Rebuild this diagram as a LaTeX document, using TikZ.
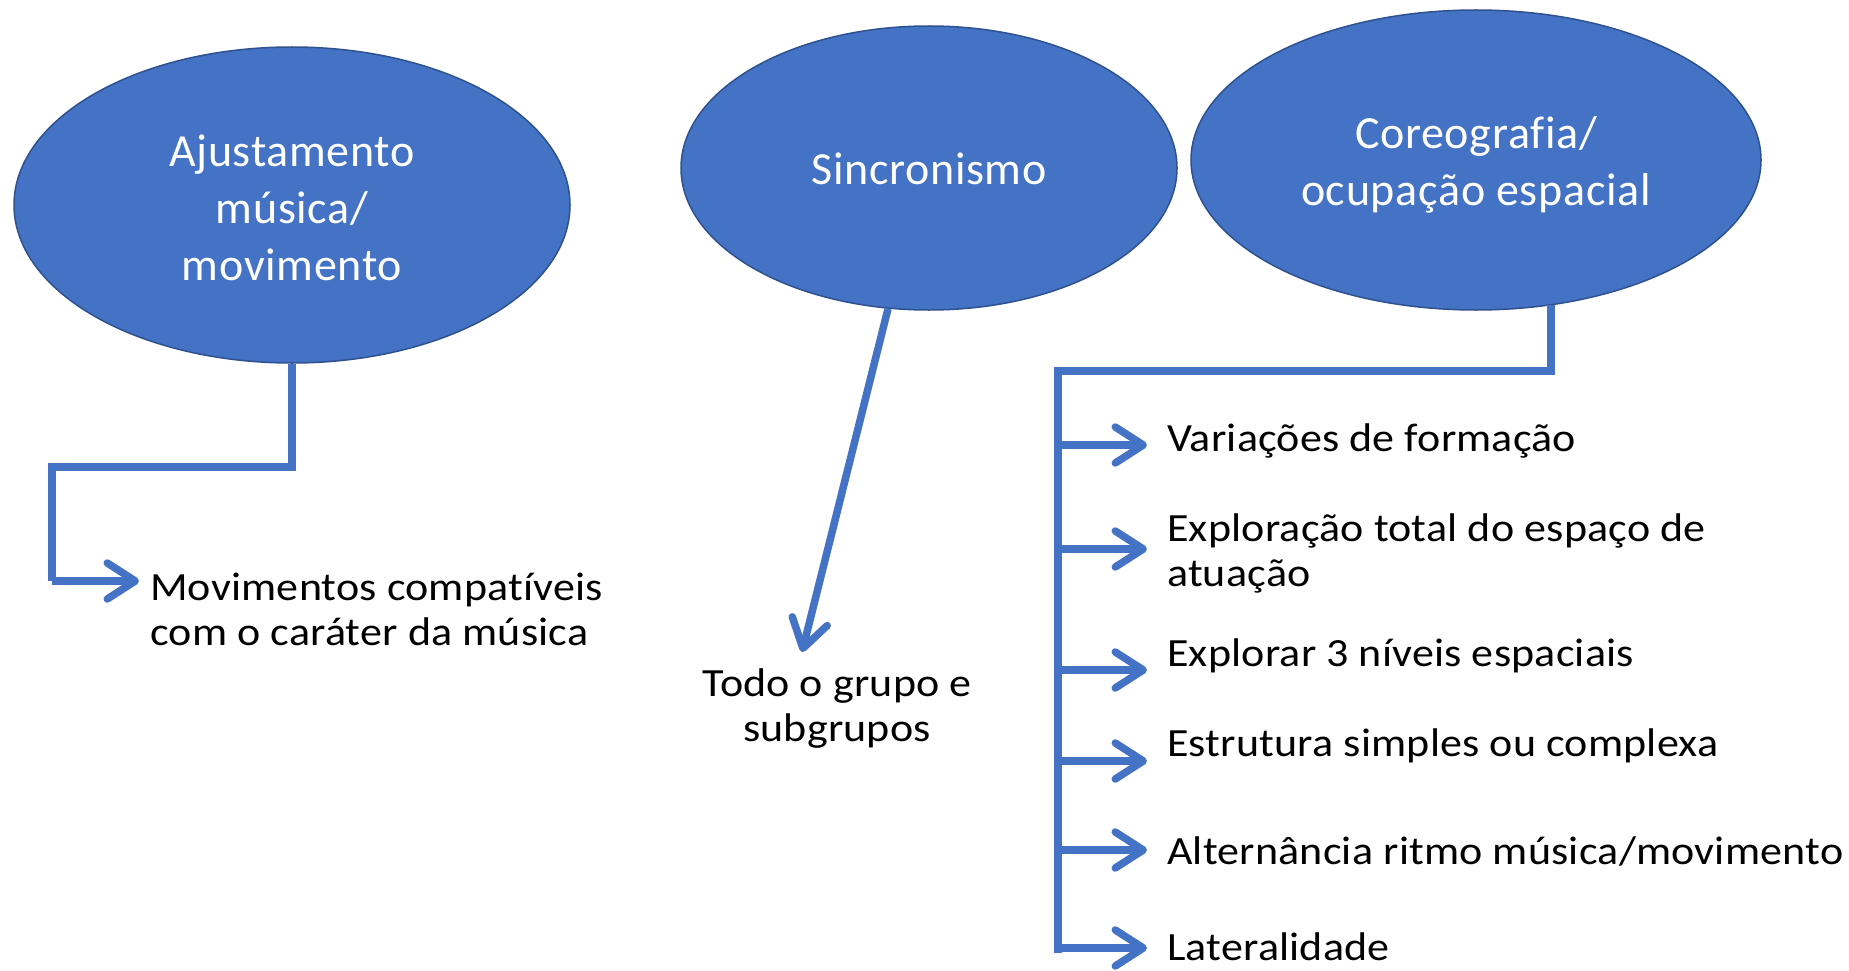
\documentclass[tikz,border=0pt]{standalone}
\usepackage{fontspec}
\setmainfont{Carlito}
\newfontfamily\labfont[FakeStretch=1.1,LetterSpace=0.5,Ligatures=NoCommon]{Carlito}
\newfontfamily\bubfont[LetterSpace=1.5,Ligatures=NoCommon]{Carlito}
\usetikzlibrary{shapes.geometric,arrows.meta}
\definecolor{efill}{HTML}{4472C4}
\definecolor{eborder}{HTML}{2F528F}
\tikzset{
  bubble/.style={ellipse, fill=efill, draw=eborder, line width=1.5pt, inner sep=0pt},
  bubtext/.style={text=white, font=\bubfont\fontsize{46}{57}\selectfont, align=center, inner sep=0pt},
  item/.style={anchor=west, font=\labfont\fontsize{40}{45}\selectfont, align=left, inner sep=0pt, text=black},
  conn/.style={draw=efill, line width=7.5pt},
  tip/.style={-{Straight Barb[length=28pt,width=36pt,round]}},
}
\begin{document}
\begin{tikzpicture}[x=1pt,y=-1pt]
\useasboundingbox (0,0) rectangle (1849,971);
% ellipses
\node[bubble, minimum width=556pt, minimum height=316pt] (e1) at (292,205) {};
\node[bubble, minimum width=496pt, minimum height=284pt] (e2) at (929,168) {};
\node[bubble, minimum width=570pt, minimum height=300pt] (e3) at (1476,160) {};
\node[bubtext] (l1) at ([yshift=-3pt]e1.center) {Ajustamento\\música/\\movimento};
\node[bubtext] (l2) at ([yshift=-1pt]e2.center) {Sincronismo};
\node[bubtext] (l3) at ([yshift=-5pt]e3.center) {Coreografia/\\ocupação espacial};
% left branch
\node[item] (m1) at (150,609) {Movimentos compatíveis\\com o caráter da música};
\coordinate (k1) at (52,581);
\coordinate (t1) at (139,581);
\draw[conn] (e1.south) -- ++(0,103) -| (k1);
\draw[conn,tip] (k1) -- (t1);
% middle branch
\node[item, anchor=center, align=center] (m2) at (837,709) {Todo o grupo e\\subgrupos};
\coordinate (t2) at (802,652);
\draw[conn,tip] ([xshift=-41pt,yshift=2pt]e2.south) -- (t2);
% right tree
\coordinate (trtop) at (1058,371);
\coordinate (trbot) at (1058,953);
\draw[conn] ([xshift=75pt,yshift=6pt]e3.south) |- (trtop) -- (trbot);
\node[item] (i1) at (1167,441) {Variações de formação};
\node[item] (i2) at (1167,553) {Exploração total do espaço de\\atuação};
\node[item] (i3) at (1167,656) {Explorar 3 níveis espaciais};
\node[item] (i4) at (1167,746) {Estrutura simples ou complexa};
\node[item] (i5) at (1167,851) {Alternância ritmo música/movimento};
\node[item] (i6) at (1167,947) {Lateralidade};
\coordinate (b1) at (1147,445);
\coordinate (b2) at (1147,549);
\coordinate (b3) at (1147,670);
\coordinate (b4) at (1147,761);
\coordinate (b5) at (1147,850);
\coordinate (b6) at (1147,948);
\foreach \b in {b1,b2,b3,b4,b5,b6}{
  \draw[conn,tip] (trtop |- \b) -- (\b);
}
\end{tikzpicture}
\end{document}
